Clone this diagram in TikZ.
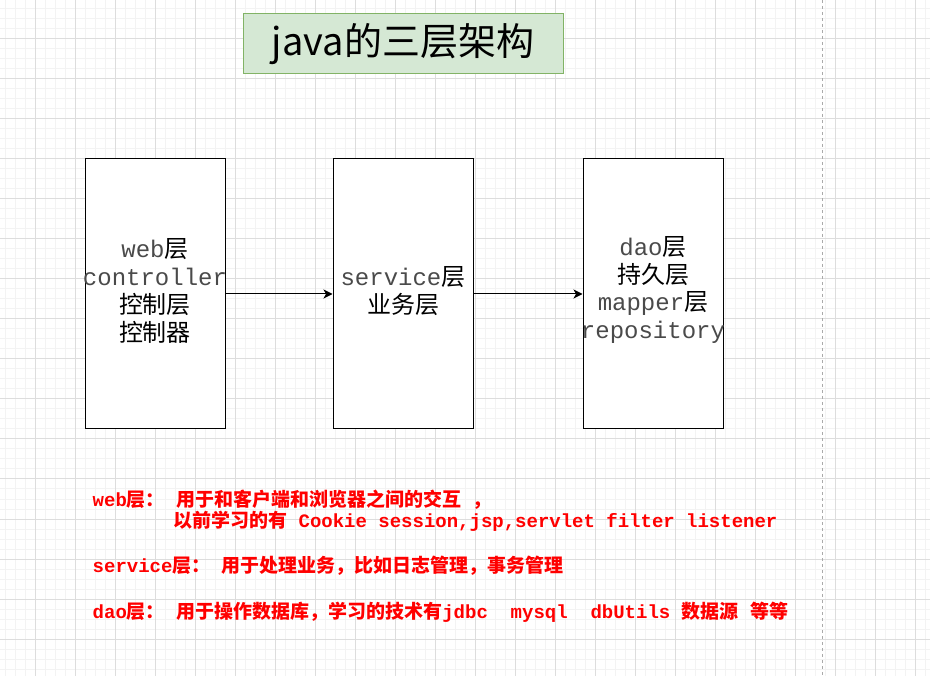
\documentclass[tikz,border=0pt]{standalone}
\usepackage{fontspec}
\setmainfont{Liberation Mono}
\newfontfamily\cjk{Noto Sans CJK SC}
\newfontfamily\mono{Liberation Mono}
\usetikzlibrary{arrows.meta}
\definecolor{gridminor}{HTML}{F3F3F3}
\definecolor{gridmajor}{HTML}{DDDDDD}
\definecolor{titlefill}{HTML}{D5E8D4}
\definecolor{titledraw}{HTML}{82B366}
\definecolor{monogray}{HTML}{4A4A4A}
\definecolor{notered}{HTML}{FF0000}
\definecolor{dashgray}{HTML}{AAAAAA}
\begin{document}
\begin{tikzpicture}[x=1pt,y=-1pt,
  layerbox/.style={draw=black,line width=1pt,fill=white,minimum width=140pt,minimum height=270pt,inner sep=0pt},
  boxtext/.style={inner sep=0pt,align=center,font=\fontsize{24}{27.7}\selectfont},
  titlebox/.style={draw=titledraw,line width=1pt,fill=titlefill,minimum width=320pt,minimum height=60pt,inner sep=0pt,font=\cjk\fontsize{38}{44}\selectfont},
  notetext/.style={anchor=west,inner sep=0pt,text=notered,font=\fontsize{19}{22}\selectfont\bfseries},
  flow/.style={-{Stealth[length=9pt,width=9pt,inset=2.5pt]},line width=1pt,draw=black}
]
\useasboundingbox (0,0) rectangle (930,676);
% background grid
\foreach \gx in {5,15,...,925} \draw[gridminor,line width=1pt] (\gx,0) -- (\gx,676);
\foreach \gy in {9,19,...,669} \draw[gridminor,line width=1pt] (0,\gy) -- (930,\gy);
\foreach \gx in {35,75,...,915} \draw[gridmajor,line width=1pt] (\gx,0) -- (\gx,676);
\foreach \gy in {39,79,...,639} \draw[gridmajor,line width=1pt] (0,\gy) -- (930,\gy);
\draw[dashgray,line width=1pt,dash pattern=on 3pt off 3pt] (822.5,0) -- (822.5,676);

% title
\node[titlebox] (title) at (403,44) {java的三层架构};

% layer boxes
\node[layerbox] (b1) at (155,294) {};
\node[layerbox] (b2) at (403,294) {};
\node[layerbox] (b3) at (653,294) {};

\node[boxtext] (t1) at (155,291) {{\color{monogray}\mono web}{\cjk 层}\\{\color{monogray}\mono controller}\\{\cjk 控制层}\\{\cjk 控制器}};
\node[boxtext] (t2) at (403,291) {{\color{monogray}\mono service}{\cjk 层}\\{\cjk 业务层}};
\node[boxtext] (t3) at (653,290) {{\color{monogray}\mono dao}{\cjk 层}\\{\cjk 持久层}\\{\color{monogray}\mono mapper}{\cjk 层}\\{\color{monogray}\mono repository}};

\draw[flow] (b1.east) -- (b2.west);
\draw[flow] (b2.east) -- (b3.west);

% notes
\node[notetext] (n1) at (92.5,500) {{\mono web}{\cjk 层：}{\mono\ }{\cjk 用于和客户端和浏览器之间的交互}{\mono\ }{\cjk ，}};
\node[notetext] (n2) at (173,521) {{\cjk 以前学习的有}{\mono\ Cookie session,jsp,servlet filter listener}};
\node[notetext] (n3) at (92.5,566) {{\mono service}{\cjk 层：}{\mono\ }{\cjk 用于处理业务，比如日志管理，事务管理}};
\node[notetext] (n4) at (92.5,612) {{\mono dao}{\cjk 层：}{\mono\ }{\cjk 用于操作数据库，学习的技术有}{\mono jdbc\ \ mysql\ \ dbUtils\ }{\cjk 数据源}{\mono\ }{\cjk 等等}};
\end{tikzpicture}
\end{document}
